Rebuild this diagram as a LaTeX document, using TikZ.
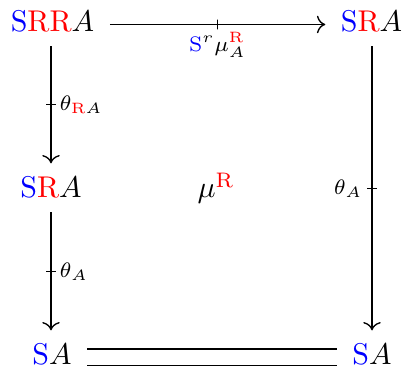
\documentclass[tikz,border=0pt]{standalone}
\usetikzlibrary{cd}
\newcommand{\cS}{\textcolor{blue}{\mathrm{S}}}
\newcommand{\cR}{\textcolor{red}{\mathrm{R}}}
\begin{document}
\begin{tikzpicture}[x=0.33333pt,y=-0.33333pt,
  obj/.style={inner xsep=5pt, inner ysep=4.5pt, text height=6.83pt, text depth=0pt, anchor=base},
  arr/.style={-{cm to}, line width=0.45pt},
  tickmark/.style={draw, line width=0.45pt, rectangle, minimum width=0pt, minimum height=3.2pt, inner sep=0pt, sloped, midway},
  lab/.style={font=\scriptsize, inner sep=0pt}
]
\useasboundingbox (0,0) rectangle (405,372);
\node[obj] (a) at (52.5,32) {$\cS\cR\cR A$};
\node[obj] (b) at (371.5,32) {$\cS\cR A$};
\node[obj] (c) at (51,198) {$\cS\cR A$};
\node[obj] (d) at (52,365) {$\cS A$};
\node[obj] (e) at (372,365) {$\cS A$};
\node[anchor=base] (m) at (216,198) {$\mu^{\cR}$};

\draw[arr] ([yshift=2.5pt]a.base east) -- ([yshift=2.5pt]b.base west) node[tickmark] (t1) {};
\node[lab, anchor=north] (l1) at ([yshift=-2.3pt]t1.center) {$\cS^r\mu^{\cR}_A$};

\draw[arr] (a.south -| c.north) -- (c.north) node[tickmark] (t2) {};
\node[lab, anchor=west] (l2) at ([xshift=2.7pt]t2.center) {$\theta_{\cR A}$};

\draw[arr] (c.south) -- (c.south |- d.north) node[tickmark] (t3) {};
\node[lab, anchor=west] (l3) at ([xshift=2.7pt]t3.center) {$\theta_A$};

\draw[arr] (e.north |- b.south) -- (e.north) node[tickmark] (t4) {};
\node[lab, anchor=east] (l4) at ([xshift=-3pt]t4.center) {$\theta_A$};

\draw[line width=0.45pt] ([yshift=5.3pt]d.base east) -- ([yshift=5.3pt]e.base west);
\draw[line width=0.45pt] ([yshift=-0.2pt]d.base east) -- ([yshift=-0.2pt]e.base west);
\end{tikzpicture}
\end{document}
